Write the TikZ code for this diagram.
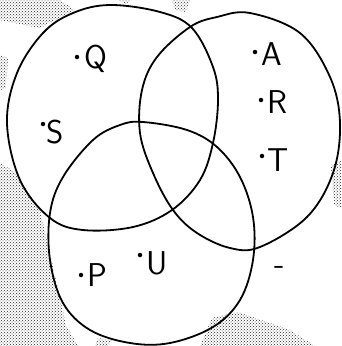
\documentclass[tikz,border=0pt]{standalone}
\usetikzlibrary{patterns}
\tikzset{
  setline/.style={line width=1.8pt, line join=round},
  pt/.style={circle, fill=black, inner sep=0pt, minimum size=4.5pt},
  lab/.style={font=\sffamily\fontsize{33}{35}\selectfont, inner sep=0pt, anchor=west},
  noise/.style={pattern=crosshatch dots, pattern color=black!85, draw=none}
}
\begin{document}
\begin{tikzpicture}[x=1pt,y=-1pt]
\useasboundingbox (0,0) rectangle (341,346);
% scanned paper background texture
\fill[noise] (0,0) -- (60,0) -- (75,10) -- (40,28) -- (10,22) -- (0,20) -- cycle;
\fill[noise] (0,55) -- (8,58) -- (6,88) -- (0,90) -- cycle;
\fill[noise] (172,0) -- (190,0) -- (186,12) -- (175,10) -- cycle;
\fill[noise] (0,163) -- (15,172) -- (40,210) -- (52,262) -- (66,325) -- (78,346) -- (0,346) -- cycle;
\fill[noise] (212,318) -- (238,312) -- (290,330) -- (315,346) -- (200,346) -- cycle;
\fill[noise] (331,165) -- (341,160) -- (341,208) -- (334,205) -- cycle;
\fill[noise] (98,338) -- (112,340) -- (108,346) -- (95,346) -- cycle;
\fill[noise] (118,0) -- (130,0) -- (126,4) -- cycle;
% three sets
\draw[setline] plot[smooth cycle, tension=0.6] coordinates {
  (110,5) (160,12) (192,28) (213,67) (218,100) (213,143) (200,180) (172,210)
  (133,227) (83,230) (50,218) (20,180) (7,123) (17,73) (43,33) (73,13)};
\draw[setline] plot[smooth cycle, tension=0.6] coordinates {
  (250,13) (300,33) (330,77) (340,123) (333,173) (307,217) (260,247) (230,248)
  (197,233) (173,210) (153,173) (140,133) (142,90) (157,57) (190,27) (217,17)};
\draw[setline] plot[smooth cycle, tension=0.6] coordinates {
  (143,122) (187,130) (217,147) (240,177) (253,217) (253,260) (240,300) (213,327)
  (170,343) (130,343) (90,330) (63,303) (50,260) (50,213) (63,177) (93,140) (120,125)};
% elements
\node[pt] (dq) at (77,57) {};  \node[lab] (q) at (84,59) {Q};
\node[pt] (ds) at (43,124) {}; \node[lab] (s) at (46,132) {S};
\node[pt] (da) at (255,52) {}; \node[lab] (a) at (261,54) {A};
\node[pt] (dr) at (261,100) {}; \node[lab] (r) at (267,102) {R};
\node[pt] (dt) at (262,156) {}; \node[lab] (t) at (267,160) {T};
\node[pt] (dp) at (81,275) {}; \node[lab] (p) at (87,275) {P};
\node[pt] (du) at (140,255) {}; \node[lab] (u) at (146,263) {U};
\node[font=\sffamily\fontsize{33}{35}\selectfont, inner sep=0pt] (dash) at (280,270) {-};
\end{tikzpicture}
\end{document}
